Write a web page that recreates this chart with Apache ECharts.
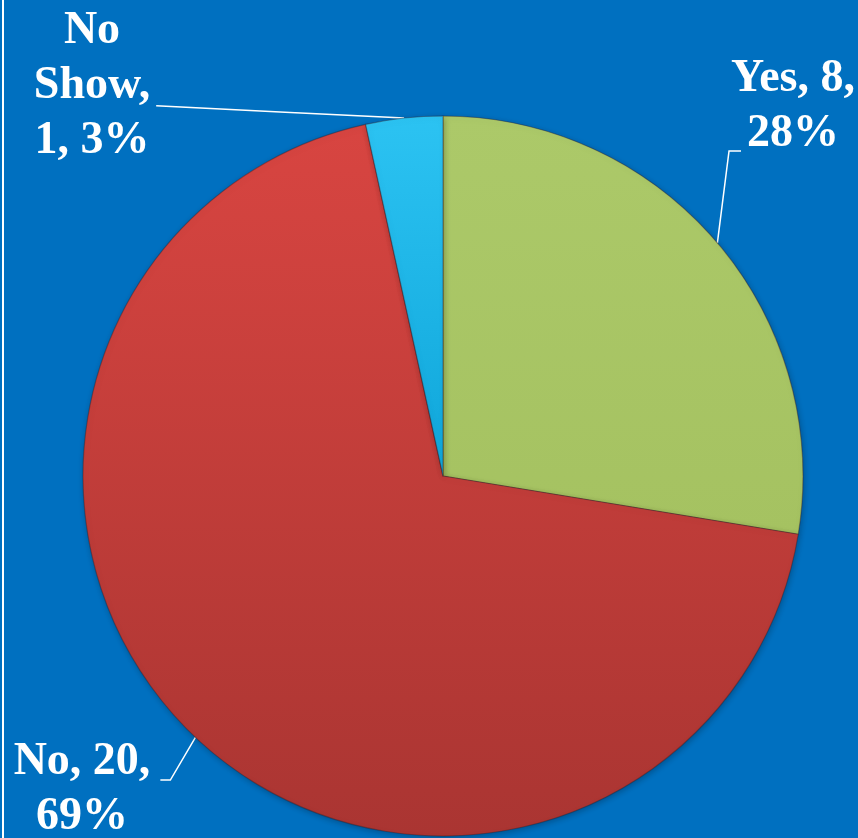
<!DOCTYPE html>
<html>
<head>
<meta charset="utf-8">
<script src="https://cdn.jsdelivr.net/npm/echarts@6/dist/echarts.min.js"></script>
<style>
  html, body { margin: 0; padding: 0; background: #0070C0; }
  #chart { width: 858px; height: 838px; }
</style>
</head>
<body>
<div id="chart"></div>
<script>
// Survey answers
const categories = ['Yes', 'No', 'No Show'];
const counts = [8, 20, 1];

// Fill colours per answer: [light top, darker bottom]
const sliceColors = [
  ['#ACC969', '#A5C261'],
  ['#D84541', '#AA3532'],
  ['#2CC3F2', '#0FA6DA']
];

// Label text templates ({b} name, {c} count, {d} percent)
const labelFormats = [
  '{b}, {c},\n{d}%',
  '{b}, {c},\n{d}%',
  'No\nShow,\n{c}, {d}%'
];

// Centre of each label block, and which side its leader line attaches to
const labelSpots = [
  { x: 793, y: 107, side: 'left' },
  { x: 82, y: 790, side: 'right' },
  { x: 92, y: 86, side: 'straight' }
];

const chart = echarts.init(document.getElementById('chart'), null, { renderer: 'canvas' });

const data = categories.map((name, i) => ({
  name: name,
  value: counts[i],
  label: { formatter: labelFormats[i] },
  itemStyle: {
    color: {
      type: 'linear', x: 0, y: 0, x2: 0, y2: 1,
      colorStops: [
        { offset: 0, color: sliceColors[i][0] },
        { offset: 1, color: sliceColors[i][1] }
      ]
    }
  }
}));

chart.setOption({
  backgroundColor: '#0070C0',
  animation: false,
  graphic: [{
    type: 'rect',
    shape: { x: 2, y: 0, width: 2, height: 838 },
    style: { fill: '#FFFFFF' },
    z: 10
  }],
  series: [{
    type: 'pie',
    center: [443, 476],
    radius: [0, 360],
    startAngle: 90,
    clockwise: true,
    percentPrecision: 0,
    data: data,
    itemStyle: {
      borderColor: 'rgba(60,20,20,0.35)',
      borderWidth: 1.2,
      shadowColor: 'rgba(0,0,0,0.25)',
      shadowBlur: 6,
      shadowOffsetX: 1,
      shadowOffsetY: 2
    },
    label: {
      show: true,
      color: '#FFFFFF',
      fontFamily: '"Liberation Serif", "Times New Roman", serif',
      fontWeight: 'bold',
      fontSize: 46,
      lineHeight: 55,
      align: 'center',
      overflow: 'none'
    },
    labelLine: {
      show: true,
      length: 20,
      length2: 12,
      lineStyle: { color: '#FFFFFF', width: 1.5 }
    },
    labelLayout: function (params) {
      const spot = labelSpots[params.dataIndex];
      const edge = params.labelLinePoints ? params.labelLinePoints[0] : null;
      const w = params.labelRect.width;
      const h = params.labelRect.height;
      const left = spot.x - w / 2;
      const top = spot.y - h / 2;
      const out = {
        x: spot.x,
        y: spot.y,
        align: 'center',
        verticalAlign: 'middle'
      };
      if (edge) {
        if (spot.side === 'left') {
          const yy = top + h * 0.9;
          out.labelLinePoints = [edge, [left - 2, yy], [left + 10, yy]];
        } else if (spot.side === 'right') {
          const yy = top + h * 0.41;
          const r = left + w;
          out.labelLinePoints = [edge, [r + 20, yy], [r + 10, yy]];
        } else {
          const end = [left + w + 6, top + h * 0.62];
          out.labelLinePoints = [edge, [(edge[0] + end[0]) / 2, (edge[1] + end[1]) / 2], end];
        }
      }
      return out;
    }
  }]
});
</script>
</body>
</html>
